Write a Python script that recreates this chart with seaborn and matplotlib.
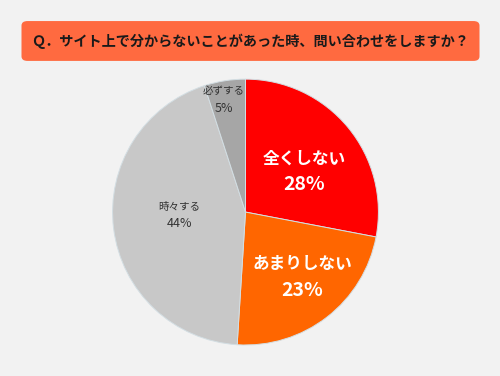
import matplotlib
matplotlib.use("Agg")
import numpy as np
import seaborn as sns
import matplotlib.pyplot as plt
from matplotlib.patches import FancyBboxPatch

sns.set_style("white")
plt.rcParams['font.family'] = ['Noto Sans CJK JP', 'DejaVu Sans']

# data
title = "Ｑ．サイト上で分からないことがあった時、問い合わせをしますか？"
categories = ["全くしない", "あまりしない", "時々する", "必ずする"]
values = [28, 23, 44, 5]
colors = ["#FF0000", "#FF6600", "#C8C8C8", "#A6A6A6"]

bg = "#F2F2F2"
fig = plt.figure(figsize=(5, 3.76), dpi=100, facecolor=bg)

# title box
box = FancyBboxPatch((0.043, 0.838), 0.916, 0.106, boxstyle="round,pad=0,rounding_size=0.012",
                     transform=fig.transFigure, facecolor="#FF6A40", edgecolor="none")
fig.patches.append(box)
fig.text(0.5, 0.889, title, ha="center", va="center", fontsize=10.2,
         fontweight="bold", color="#1a1a1a")

ax = fig.add_axes([0.225, 0.0825, 0.532, 0.707])
ax.set_facecolor(bg)
wedges, _ = ax.pie(values, colors=colors, startangle=90, counterclock=False,
                   wedgeprops=dict(linewidth=0.7, edgecolor="#D3DEE3"))
ax.set_xlim(-1, 1)
ax.set_ylim(-1, 1)
ax.set_aspect("equal")
ax.axis("off")

# label placement: radius fraction and angle nudge (deg) from wedge middle
dist = [0.54, 0.65, 0.50, 0.86]
nudge = [-5, 3, -4.6, 1.9]
for w, cat, v, d, n in zip(wedges, categories, values, dist, nudge):
    ang = np.deg2rad((w.theta1 + w.theta2) / 2 + n)
    x, y = d * np.cos(ang), d * np.sin(ang)
    if cat in ("全くしない", "あまりしない"):
        kw = dict(color="white", fontweight="bold")
        s1, s2, off = 12, 14, 9.4
    else:
        kw = dict(color="#333333")
        s1, s2, off = 7.6, 9, 6.1
    ax.annotate(cat, (x, y), xytext=(0, off), textcoords="offset points",
                ha="center", va="center", fontsize=s1, **kw)
    ax.annotate(f"{v}%", (x, y), xytext=(0, -off), textcoords="offset points",
                ha="center", va="center", fontsize=s2, **kw)

fig.savefig("out.png", dpi=100, facecolor=bg)
